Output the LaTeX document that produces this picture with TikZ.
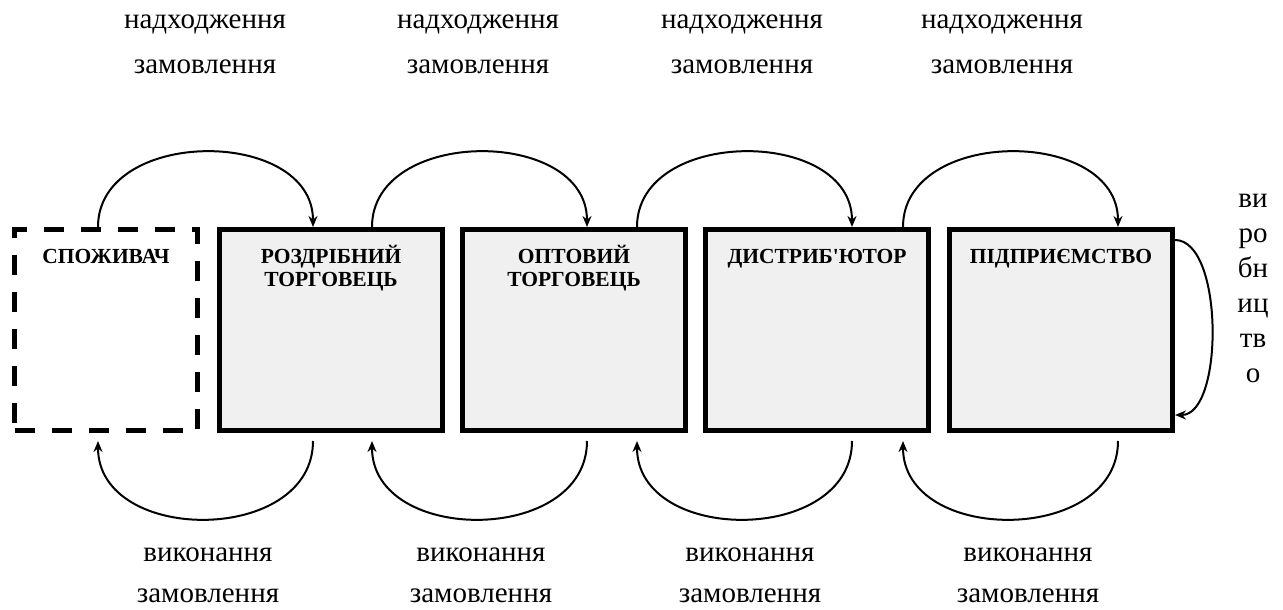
\documentclass[tikz,border=0pt]{standalone}
\usepackage{fontspec}
\setmainfont{Liberation Serif}
\usetikzlibrary{positioning,arrows.meta,calc}
\definecolor{boxfill}{HTML}{F0F0F0}

\begin{document}
\begin{tikzpicture}[
  x=1pt, y=-1pt,
  box/.style={draw, line width=5pt, fill=boxfill, minimum width=223pt, minimum height=201pt, inner sep=0pt},
  dbox/.style={draw, line width=5pt, dash pattern=on 20pt off 17pt, minimum width=183pt, minimum height=201pt, inner sep=0pt},
  ttl/.style={anchor=base, align=center, inner sep=0pt, font=\fontsize{21.5}{23}\selectfont\bfseries},
  lbl/.style={align=center, inner sep=0pt, font=\fontsize{29}{45}\selectfont},
  lblb/.style={lbl, font=\fontsize{29}{41}\selectfont},
  arr/.style={-{Stealth[length=11pt,width=9pt]}, line width=2pt},
]
\useasboundingbox (0,0) rectangle (1283,610);
\node[dbox] (cons) at (106,330) {};
\node[box, right=17pt of cons] (ret) {};
\node[box, right=15pt of ret] (whs) {};
\node[box, right=15pt of whs] (dst) {};
\node[box, right=16pt of dst] (mfr) {};
\node[ttl] (tcons) at ([yshift=-36pt]cons.north) {СПОЖИВАЧ};
\node[ttl] (tret) at ([yshift=-59pt]ret.north) {РОЗДРІБНИЙ\\ТОРГОВЕЦЬ};
\node[ttl] (twhs) at ([yshift=-59pt]whs.north) {ОПТОВИЙ\\ТОРГОВЕЦЬ};
\node[ttl] (tdst) at ([yshift=-36pt]dst.north) {ДИСТРИБ\textquotesingle ЮТОР};
\node[ttl] (tmfr) at ([yshift=-36pt]mfr.north) {ПІДПРИЄМСТВО};
\draw[arr] ([xshift=86pt]cons.north west) .. controls +(0,-100) and +(0,-100) .. ([xshift=96pt]ret.north west);
\draw[arr] ([xshift=155pt]ret.north west) .. controls +(0,-100) and +(0,-100) .. ([xshift=127pt]whs.north west);
\draw[arr] ([xshift=177pt]whs.north west) .. controls +(0,-100) and +(0,-100) .. ([xshift=149pt]dst.north west);
\draw[arr] ([xshift=200pt]dst.north west) .. controls +(0,-100) and +(0,-100) .. ([xshift=171pt]mfr.north west);
\draw[arr] ([xshift=96pt,yshift=-8pt]ret.south west) .. controls +(0,104) and +(0,104) .. ([xshift=86pt,yshift=-8pt]cons.south west);
\draw[arr] ([xshift=127pt,yshift=-8pt]whs.south west) .. controls +(0,104) and +(0,104) .. ([xshift=155pt,yshift=-8pt]ret.south west);
\draw[arr] ([xshift=149pt,yshift=-8pt]dst.south west) .. controls +(0,104) and +(0,104) .. ([xshift=177pt,yshift=-8pt]whs.south west);
\draw[arr] ([xshift=171pt,yshift=-8pt]mfr.south west) .. controls +(0,104) and +(0,104) .. ([xshift=200pt,yshift=-8pt]dst.south west);
\draw[arr] ([yshift=-13pt]mfr.north east) .. controls +(49,0) and +(49,0) .. ([yshift=18pt]mfr.south east);
\node[lbl] (in1) at (205,44) {надходження\\замовлення};
\node[lbl] (in2) at (478,44) {надходження\\замовлення};
\node[lbl] (in3) at (742,44) {надходження\\замовлення};
\node[lbl] (in4) at (1002,44) {надходження\\замовлення};
\node[lblb] (out1) at (208,575) {виконання\\замовлення};
\node[lblb] (out2) at (481,575) {виконання\\замовлення};
\node[lblb] (out3) at (750,575) {виконання\\замовлення};
\node[lblb] (out4) at (1028,575) {виконання\\замовлення};
\node[lbl, font=\fontsize{29}{35}\selectfont] (prod) at (1253,288) {ви\\ро\\бн\\иц\\тв\\о};
\end{tikzpicture}
\end{document}
